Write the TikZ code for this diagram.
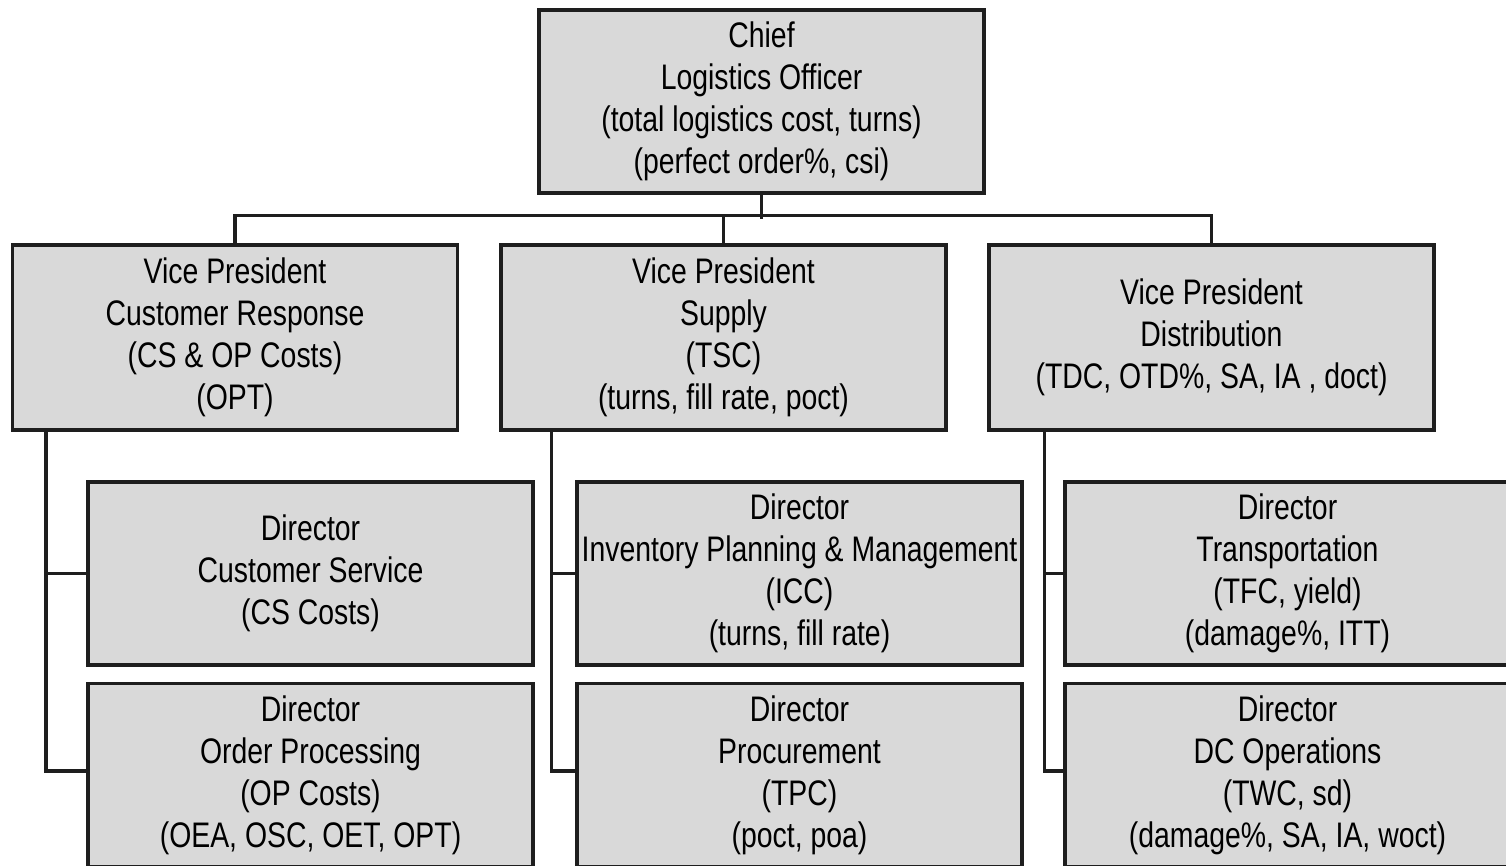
\documentclass[tikz,border=0pt]{standalone}
\usepackage{fontspec}
\setmainfont[FakeStretch=0.8]{Liberation Sans}
\definecolor{boxgray}{HTML}{D9D9D9}
\definecolor{linecol}{HTML}{1E1E1E}
\begin{document}
\begin{tikzpicture}[x=1pt,y=-1pt,
  box/.style={draw=linecol,line width=3.2pt,fill=boxgray,minimum width=445pt,minimum height=183pt,inner sep=0pt,align=center,font=\fontsize{35.5}{42}\selectfont},
  conn/.style={draw=linecol,line width=3.2pt}]
\useasboundingbox (0,0) rectangle (1506,866);
\clip (0,0) rectangle (1506,866);
\fill[white] (0,0) rectangle (1506,866);
% top
\node[box] (chief) at (761.5,101.5) {Chief\\Logistics Officer\\(total logistics cost, turns)\\(perfect order\%, csi)};
% vice presidents
\node[box,minimum height=185pt] (vp1) at (235,337.5) {Vice President\\Customer Response\\(CS \& OP Costs)\\(OPT)};
\node[box,minimum height=185pt] (vp2) at (723.5,337.5) {Vice President\\Supply\\(TSC)\\(turns, fill rate, poct)};
\node[box,minimum height=185pt] (vp3) at (1211.5,337.5) {Vice President\\Distribution\\(TDC, OTD\%, SA, IA , doct)};
% directors
\node[box] (cs) at (310.5,573.5) {Director\\Customer Service\\(CS Costs)};
\node[box] (op) at (310.5,775) {Director\\Order Processing\\(OP Costs)\\(OEA, OSC, OET, OPT)};
\node[box] (ipm) at (799.5,573.5) {Director\\Inventory Planning \& Management\\(ICC)\\(turns, fill rate)};
\node[box] (proc) at (799.5,775) {Director\\Procurement\\(TPC)\\(poct, poa)};
\node[box] (tr) at (1287.5,573.5) {Director\\Transportation\\(TFC, yield)\\(damage\%, ITT)};
\node[box] (dc) at (1287.5,775) {Director\\DC Operations\\(TWC, sd)\\(damage\%, SA, IA, woct)};
% connectors top
\draw[conn] (chief.south) -- ++(0,24);
\draw[conn] (vp1.north) -- ++(0,-28) -| (vp3.north);
\draw[conn] (vp2.north) -- ++(0,-28);
% left branch
\coordinate (l) at ([xshift=35pt]vp1.south west);
\draw[conn] (l) |- ([yshift=4pt]op.west);
\draw[conn] (cs.west) -- (cs.west -| l);
% middle branch
\coordinate (m) at ([xshift=52pt]vp2.south west);
\draw[conn] (m) |- ([yshift=4pt]proc.west);
\draw[conn] (ipm.west) -- (ipm.west -| m);
% right branch
\coordinate (r) at ([xshift=57pt]vp3.south west);
\draw[conn] (r) |- ([yshift=4pt]dc.west);
\draw[conn] (tr.west) -- (tr.west -| r);
\end{tikzpicture}
\end{document}
